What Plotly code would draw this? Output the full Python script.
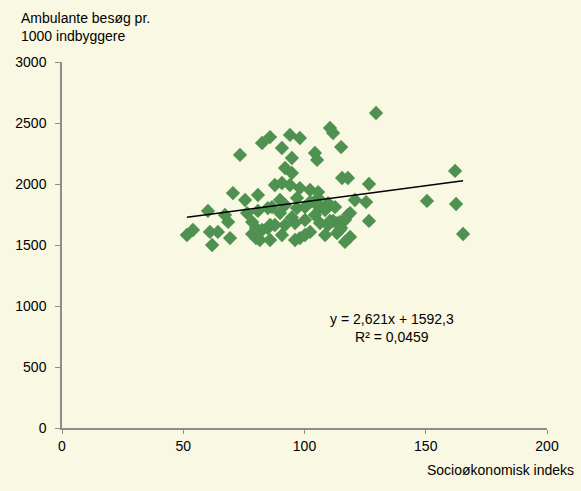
import plotly.graph_objects as go

# Socioøkonomisk indeks (x) and ambulante besøg pr. 1000 indbyggere (y)
x_vals = [51.5, 54.0, 60.2, 61.0, 61.9, 64.3, 67.2, 68.5, 69.3, 70.5,
          73.4, 75.5, 76.3, 78.4, 80.0, 80.8, 81.6, 82.5, 84.9, 85.8,
          87.8, 89.9, 90.7, 92.0, 94.0, 94.8, 96.1, 96.9, 98.1, 100.2,
          102.3, 104.3, 105.2, 105.6, 106.4, 108.5, 109.7, 110.5, 111.8, 112.6,
          113.4, 114.6, 115.1, 115.5, 116.7, 117.9, 118.8, 120.8, 125.4, 126.6,
          129.5, 150.5, 162.1, 162.5, 165.4,
          80.8, 84.9, 85.8, 90.7, 92.0, 96.1, 98.1, 100.2, 102.3, 104.3,
          109.7, 113.4, 116.7, 118.8, 94.8, 105.6, 87.8, 82.5, 78.4, 89.9,
          94.0, 96.9, 106.4, 111.8, 114.6, 100.2, 92.0, 85.8, 98.1, 104.3,
          80.0, 110.5, 90.7, 94.8, 86.6, 115.1, 117.9, 126.6, 102.3, 108.5]
y_vals = [1582, 1623, 1779, 1607, 1500, 1607, 1746, 1689, 1557, 1926,
          2238, 1869, 1762, 1689, 1557, 1910, 1541, 2336, 1803, 2385,
          1992, 1869, 2295, 2131, 2402, 2090, 1541, 1885, 2377, 1705,
          1951, 2254, 2197, 1885, 1811, 1582, 1844, 2459, 2418, 1811,
          1598, 1689, 2303, 2049, 1525, 2049, 1566, 1869, 1852, 2000,
          2582, 1861, 2107, 1836, 1590,
          1779, 1639, 1664, 1582, 1828, 1680, 1557, 1582, 1607, 1746,
          1664, 1680, 1705, 1762, 2213, 1934, 1664, 1623, 1590, 1762,
          1992, 1803, 1680, 1697, 1623, 1811, 1664, 1541, 1967, 1844,
          1639, 1697, 2008, 1726, 1811, 1639, 1746, 1697, 1852, 1787]

slope = 2.621
intercept = 1592.3
trend_x = [min(x_vals), max(x_vals)]
trend_y = [slope * v + intercept for v in trend_x]

x_ticks = [0, 50, 100, 150, 200]
y_ticks = [0, 500, 1000, 1500, 2000, 2500, 3000]

bg = "#F9F8E2"
green = "#4E9150"
axis_col = "#8C8C8C"
font = "Liberation Sans, Arial, sans-serif"

fig = go.Figure()
fig.add_trace(go.Scatter(
    x=x_vals, y=y_vals, mode="markers",
    marker=dict(symbol="diamond", size=11, color=green, line=dict(width=0)),
    showlegend=False, hoverinfo="skip"))
fig.add_trace(go.Scatter(
    x=trend_x, y=trend_y, mode="lines",
    line=dict(color="black", width=1.5),
    showlegend=False, hoverinfo="skip"))

fig.update_layout(
    width=581, height=491,
    paper_bgcolor=bg, plot_bgcolor=bg,
    margin=dict(l=62, r=34, t=62, b=63),
    font=dict(family=font, size=14, color="black"),
    xaxis=dict(range=[0, 200], tickvals=x_ticks, showgrid=False, zeroline=False,
               showline=True, linecolor=axis_col, linewidth=1.5,
               ticks="outside", tickcolor=axis_col, ticklen=4, tickwidth=1),
    yaxis=dict(range=[0, 3000], tickvals=y_ticks, showgrid=False, zeroline=False,
               showline=True, linecolor=axis_col, linewidth=1.5,
               ticks="outside", tickcolor=axis_col, ticklen=5, tickwidth=1,
               ticklabelstandoff=6),
    annotations=[
        dict(text="Ambulante besøg pr.<br>1000 indbyggere", xref="paper", yref="paper",
             x=-0.088, y=1.148, xanchor="left", yanchor="top", showarrow=False,
             align="left", font=dict(size=14)),
        dict(text="Socioøkonomisk indeks", xref="paper", yref="paper",
             x=1.06, y=-0.115, xanchor="right", yanchor="middle", showarrow=False,
             font=dict(size=14)),
        dict(text="y = 2,621x + 1592,3<br>R² = 0,0459", xref="x", yref="y",
             x=136, y=820, xanchor="center", yanchor="middle", showarrow=False,
             align="center", font=dict(size=14)),
    ],
)

fig.write_html("out.html")
